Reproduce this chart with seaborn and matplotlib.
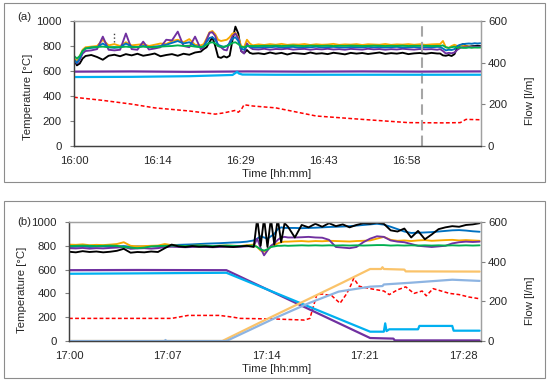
import matplotlib
matplotlib.use("Agg")
import matplotlib.pyplot as plt
import matplotlib.patches as mpatches
import seaborn as sns

# ---------------- panel (a): 16:00 - 17:10, minutes after 16:00 ----------------
a_time = ([0, 0.5, 1, 1.5, 2] + list(range(3, 23))
          + [22.5 + 0.5 * i for i in range(18)] + list(range(32, 64))
          + [63.5 + 0.5 * i for i in range(15)])

a_black = ([690, 645, 660, 700, 720]
           + [728, 712, 690, 722, 730, 718, 735, 725, 738, 722, 730, 740, 718, 728, 735, 722, 738, 730, 748, 755]
           + [775, 790, 830, 870, 800, 712, 705, 718, 708, 722, 850, 955, 900, 760, 742, 768, 745, 738]
           + [742, 735, 748, 738, 745, 732, 744, 740, 736, 748, 738, 742, 735, 746, 740, 733,
              745, 739, 744, 736, 742, 748, 737, 743, 739, 746, 735, 741, 744, 738, 745, 740]
           + [740, 725, 722, 728, 720, 735, 790, 805, 815, 800, 795, 798, 800, 802, 800])
a_orange = ([700, 680, 720, 770, 790]
            + [795, 800, 850, 805, 815, 800, 830, 805, 810, 815, 800, 810, 820, 815, 840, 850, 830, 855, 810, 805]
            + [815, 860, 910, 920, 895, 850, 840, 845, 850, 870, 900, 905, 870, 800, 790, 850, 820, 805]
            + [813, 808, 815, 810, 817, 809, 813, 811, 816, 808, 814, 810, 812, 817, 809, 813,
               811, 815, 808, 814, 812, 810, 816, 809, 813, 811, 815, 810, 814, 809, 813, 815]
            + [815, 840, 790, 785, 800, 810, 800, 805, 800, 798, 795, 792, 790, 792, 790])
a_purple = ([690, 660, 690, 740, 760]
            + [765, 775, 875, 770, 765, 770, 900, 775, 770, 835, 772, 780, 790, 850, 845, 915, 800, 790, 875, 775]
            + [790, 850, 905, 910, 880, 800, 790, 770, 765, 830, 880, 900, 860, 760, 740, 820, 790, 775]
            + [772, 778, 770, 776, 774, 779, 771, 775, 777, 770, 776, 773, 778, 772, 775, 770,
               777, 774, 771, 778, 773, 776, 770, 775, 772, 778, 774, 771, 776, 773, 775, 770]
            + [775, 760, 740, 745, 742, 748, 770, 785, 790, 790, 792, 790, 795, 793, 795])
a_blue = ([690, 665, 700, 760, 780]
          + [785, 790, 820, 790, 785, 790, 820, 795, 790, 800, 790, 795, 800, 810, 825, 840, 820, 830, 800, 790]
          + [800, 830, 865, 870, 850, 810, 800, 790, 800, 820, 860, 870, 840, 780, 770, 800, 795, 790]
          + [788, 792, 790, 794, 789, 791, 793, 788, 792, 790, 794, 789, 791, 793, 790, 788,
             792, 791, 789, 793, 790, 792, 788, 791, 793, 789, 790, 792, 788, 791, 790, 793]
          + [792, 780, 765, 770, 768, 775, 800, 810, 815, 818, 820, 818, 822, 820, 822])
a_green = ([720, 700, 720, 760, 780]
           + [790, 792, 795, 790, 792, 790, 795, 790, 792, 795, 792, 790, 795, 798, 800, 805, 800, 802, 795, 792]
           + [795, 810, 825, 830, 820, 800, 795, 795, 800, 810, 825, 830, 815, 795, 790, 800, 800, 800]
           + [800, 802, 801, 803, 800, 802, 804, 801, 800, 803, 802, 801, 803, 800, 802, 801,
              803, 802, 800, 801, 803, 802, 800, 802, 801, 803, 800, 802, 801, 802, 800, 801]
           + [800, 805, 790, 785, 790, 795, 785, 790, 785, 785, 788, 786, 788, 787, 788])

# flows (right axis, l/m)
a_flow_purple_t = [0, 10, 20, 30, 40, 50, 60, 70.5]
a_flow_purple = [357, 358, 356, 358, 357, 358, 357, 358]
a_flow_cyan_t = [0, 10, 20, 25, 27.5, 28.3, 28.6, 29.2, 35, 50, 70.5]
a_flow_cyan = [331, 332, 335, 339, 341, 356, 348, 343, 342, 342, 342]

a_red_t = [0, 5, 10, 14, 20, 24.5, 26, 28, 28.5, 29, 29.5, 31, 35, 42, 50, 58, 64, 67, 68, 70.5]
a_red = [390, 365, 335, 305, 280, 255, 265, 285, 270, 290, 330, 320, 305, 240, 213, 187, 185, 187, 213, 210]

a_dot_t = [7, 7]
a_dot_v = [830, 905]
a_marker_time = 60.3

a_ticks = [0, 14.4, 28.8, 43.2, 57.6]
a_tick_labels = ["16:00", "16:14", "16:29", "16:43", "16:58"]
a_xmax = 70.6

# ---------------- panel (b): 17:00 - 17:30, minutes after 17:00 ----------------
b_time = ([0.5 * i for i in range(28)] + [13.75 + 0.25 * i for i in range(10)]
          + [16.5 + 0.5 * i for i in range(28)])

b_black = ([750, 745, 755, 748, 752, 745, 750, 758, 775, 742, 748, 745, 752, 748,
            780, 810, 795, 790, 798, 792, 795, 790, 797, 793, 790, 795, 800, 790]
           + [1030, 800, 1030, 790, 1030, 810, 1030, 830, 990, 960]
           + [870, 975, 955, 985, 960, 990, 965, 980, 955, 975, 990, 985, 995, 985,
              930, 920, 945, 870, 925, 855, 895, 940, 955, 965, 960, 975, 980, 990])
b_blue = ([790, 792, 795, 790, 793, 795, 792, 794, 798, 792, 795, 793, 796, 792,
           800, 805, 808, 810, 812, 815, 818, 820, 822, 825, 828, 830, 835, 845]
          + [860, 880, 870, 860, 880, 900, 940, 955, 950, 950]
          + [950, 948, 950, 952, 955, 958, 960, 962, 965, 970, 975, 980, 985, 978,
             960, 940, 920, 908, 910, 912, 915, 920, 925, 930, 932, 928, 922, 918])
b_orange = ([810, 808, 812, 805, 808, 806, 810, 815, 830, 800, 795, 798, 800, 802,
             815, 805, 800, 798, 800, 802, 800, 798, 800, 802, 800, 798, 805, 810]
            + [790, 760, 750, 770, 790, 805, 820, 830, 835, 835]
            + [838, 840, 836, 840, 838, 842, 840, 838, 836, 840, 842, 845, 860, 875,
               850, 842, 845, 840, 845, 848, 842, 845, 848, 850, 845, 848, 845, 842])
b_purple = ([780, 778, 782, 776, 780, 778, 782, 785, 790, 775, 778, 780, 776, 780,
             790, 792, 790, 788, 790, 792, 790, 788, 790, 792, 790, 792, 795, 800]
            + [860, 780, 720, 760, 800, 820, 850, 870, 875, 870]
            + [870, 872, 875, 870, 868, 850, 790, 785, 780, 790, 830, 860, 880, 875,
               845, 835, 830, 815, 800, 795, 790, 795, 800, 820, 830, 835, 832, 835])
b_green = ([798, 800, 802, 800, 798, 800, 802, 800, 790, 785, 780, 785, 795, 798,
            800, 802, 800, 798, 800, 802, 800, 798, 800, 802, 800, 798, 800, 802]
           + [790, 770, 760, 770, 790, 795, 800, 800, 802, 800]
           + [802, 804, 802, 804, 802, 804, 802, 804, 802, 804, 802, 804, 806, 806,
              802, 804, 802, 804, 802, 804, 802, 804, 802, 804, 802, 804, 802, 804])

b_flow_purple_t = [0, 5, 11.5, 22, 23.7, 23.8, 30]
b_flow_purple = [357, 358, 357, 15, 12, 3, 3]
b_flow_cyan_t = [0, 5, 11.5, 22, 23, 23.1, 23.2, 23.4, 25.5, 25.6, 28, 28.1, 30]
b_flow_cyan = [339, 341, 344, 47, 47, 89, 50, 59, 59, 76, 76, 52, 52]
b_flow_orange_t = [0, 11.2, 14, 17, 20, 22, 22.8, 22.9, 23.0, 24.5, 24.6, 30]
b_flow_orange = [0, 0, 95, 195, 295, 363, 363, 372, 363, 360, 351, 350]
b_flow_steel_t = [0, 7, 7.05, 7.1, 11.5, 15, 17.5, 19.7, 22, 22.9, 23, 25, 28, 30]
b_flow_steel = [0, 0, 5, 0, 0, 114, 190, 249, 274, 277, 285, 294, 309, 303]

b_red_t = [0, 7.5, 8.7, 11, 12, 12.5, 15, 17.2, 17.6, 18.1, 18.5, 19.2, 19.8, 20.3, 20.6,
           20.8, 21.2, 22, 23, 23.4, 24, 24.6, 25.2, 25.8, 26.1, 26.6, 27.2, 27.8, 28.5, 29.2, 30]
b_red = [190, 190, 215, 215, 200, 190, 185, 176, 190, 387, 395, 380, 317, 400, 471,
         527, 460, 440, 420, 390, 430, 455, 400, 420, 380, 440, 420, 400, 390, 370, 355]

b_ticks = [0, 7.2, 14.4, 21.6, 28.8]
b_tick_labels = ["17:00", "17:07", "17:14", "17:21", "17:28"]
b_xmax = 30.1

temp_ticks = [0, 200, 400, 600, 800, 1000]
flow_ticks = [0, 200, 400, 600]

COLORS = {
    "black": "#000000", "orange": "#F7A800", "purple": "#7030A0", "blue": "#0070C0",
    "green": "#00B050", "cyan": "#00B0F0", "red": "#FF0000",
    "lightorange": "#FAC36A", "steel": "#8DB4E2", "gray": "#A6A6A6",
}

sns.set_style("white")
plt.rcParams["font.family"] = ["Liberation Sans", "DejaVu Sans"]
FS = 8.2


def style_axes(ax, ax2, ticks, labels, xmax):
    ax.set_xlim(0, xmax)
    ax.set_ylim(0, 1000)
    ax2.set_ylim(0, 600)
    ax.set_xticks(ticks)
    ax.set_xticklabels(labels, fontsize=FS)
    ax.set_yticks(temp_ticks)
    ax.set_yticklabels([str(v) for v in temp_ticks], fontsize=FS)
    ax2.set_yticks(flow_ticks)
    ax2.set_yticklabels([str(v) for v in flow_ticks], fontsize=FS)
    for a in (ax, ax2):
        a.tick_params(direction="out", length=3, width=0.8, color="#808080", pad=2)
        for side in ("left", "bottom"):
            a.spines[side].set_color("#404040")
            a.spines[side].set_linewidth(0.9)
        for side in ("top", "right"):
            a.spines[side].set_color("#A0A0A0")
            a.spines[side].set_linewidth(0.9)
    ax.tick_params(axis="y", pad=6)
    ax.tick_params(axis="x", pad=4)
    ax.set_xlabel("")
    ax.set_ylabel("")
    ax2.set_ylabel("")


def line(ax, x, y, color, lw=1.35, **kw):
    sns.lineplot(x=x, y=y, ax=ax, color=color, linewidth=lw, estimator=None,
                 sort=False, legend=False, **kw)


def plot_panel_a(ax):
    ax2 = ax.twinx()
    line(ax2, a_flow_purple_t, a_flow_purple, COLORS["purple"], lw=1.6)
    line(ax2, a_flow_cyan_t, a_flow_cyan, COLORS["cyan"], lw=1.6)
    line(ax, a_red_t, a_red, COLORS["red"], lw=1.1, linestyle=(0, (2.5, 1.5)))
    for series, c in [(a_black, "black"), (a_orange, "orange"), (a_purple, "purple"),
                      (a_blue, "blue"), (a_green, "green")]:
        line(ax, a_time, series, COLORS[c])
    line(ax, a_dot_t, a_dot_v, "#404040", lw=1.0, linestyle=":")
    ax.axvline(a_marker_time, color=COLORS["gray"], lw=1.5, linestyle=(0, (5, 2.5)))
    style_axes(ax, ax2, a_ticks, a_tick_labels, a_xmax)


def plot_panel_b(ax):
    ax2 = ax.twinx()
    line(ax2, b_flow_purple_t, b_flow_purple, COLORS["purple"], lw=1.6)
    line(ax2, b_flow_cyan_t, b_flow_cyan, COLORS["cyan"], lw=1.6)
    line(ax2, b_flow_orange_t, b_flow_orange, COLORS["lightorange"], lw=1.6)
    line(ax2, b_flow_steel_t, b_flow_steel, COLORS["steel"], lw=1.6)
    line(ax, b_red_t, b_red, COLORS["red"], lw=1.1, linestyle=(0, (2.5, 1.5)))
    for series, c in [(b_blue, "blue"), (b_orange, "orange"), (b_purple, "purple"),
                      (b_green, "green"), (b_black, "black")]:
        line(ax, b_time, series, COLORS[c])
    style_axes(ax, ax2, b_ticks, b_tick_labels, b_xmax)


W, H = 550, 384
fig = plt.figure(figsize=(5.5, 3.84), dpi=100)

# panel frames
for (x0, y0, x1, y1) in [(4, 3, 545, 182), (4, 201, 545, 378)]:
    fig.add_artist(mpatches.Rectangle((x0 / W, 1 - y1 / H), (x1 - x0) / W, (y1 - y0) / H,
                                      transform=fig.transFigure, fill=False,
                                      edgecolor="#8C8C8C", linewidth=0.8))

ax_a = fig.add_axes([74 / W, 1 - 146 / H, (481 - 74) / W, (146 - 21) / H])
ax_b = fig.add_axes([69 / W, 1 - 341 / H, (481 - 69) / W, (341 - 222) / H])
plot_panel_a(ax_a)
plot_panel_b(ax_b)

# labels
fig.text(17 / W, 1 - 17 / H, "(a)", fontsize=FS, va="center", ha="left")
fig.text(17 / W, 1 - 222 / H, "(b)", fontsize=FS, va="center", ha="left")
fig.text(28 / W, 1 - 97 / H, "Temperature [°C]", fontsize=FS, rotation=90, va="center", ha="center")
fig.text(22 / W, 1 - 290 / H, "Temperature [°C]", fontsize=FS, rotation=90, va="center", ha="center")
fig.text(530 / W, 1 - 101 / H, "Flow [l/m]", fontsize=FS, rotation=90, va="center", ha="center")
fig.text(530 / W, 1 - 301 / H, "Flow [l/m]", fontsize=FS, rotation=90, va="center", ha="center")
fig.text(277 / W, 1 - 174.5 / H, "Time [hh:mm]", fontsize=FS, va="center", ha="center")
fig.text(277 / W, 1 - 369.5 / H, "Time [hh:mm]", fontsize=FS, va="center", ha="center")

fig.savefig("out.png", dpi=100)
